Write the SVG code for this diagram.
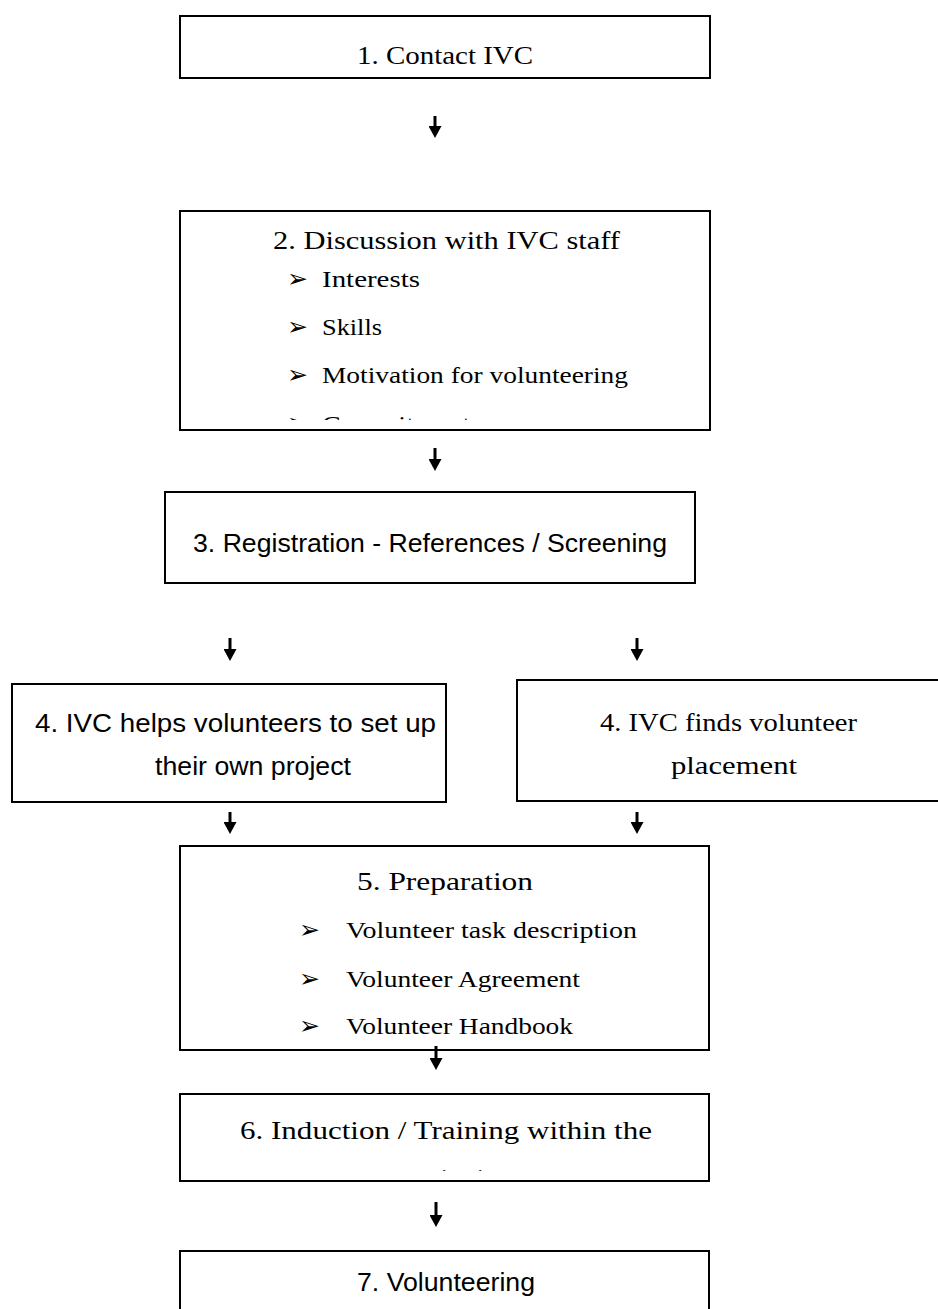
<svg xmlns="http://www.w3.org/2000/svg" width="938" height="1309" viewBox="0 0 938 1309">
<style>
.box{fill:#fff;stroke:#000;stroke-width:2}
.serif{font-family:"Liberation Serif","Times New Roman",serif;fill:#000}
.h{font-size:26px}
.b{font-size:24px}
.sans{font-family:"Liberation Sans",Arial,sans-serif;font-size:26.5px;fill:#000}
.blt{font-family:"DejaVu Sans",sans-serif;font-size:25px;fill:#000}
.conn{stroke:#000;stroke-width:3;fill:none}
</style>
<defs>
<marker id="ah" markerWidth="12" markerHeight="13" refX="0" refY="6.5" orient="auto" markerUnits="userSpaceOnUse" viewBox="0 0 12 13">
<path d="M0,0 L12,6.5 L0,13 Z" fill="#000"/>
</marker>
<clipPath id="clip2"><rect x="181" y="212" width="528" height="208"/></clipPath>
<clipPath id="clip6"><rect x="181" y="1095" width="527" height="76"/></clipPath>
</defs>

<g id="node1">
<rect class="box" x="180" y="16" width="530" height="62"/>
<text class="serif h" x="357" y="64" textLength="176" lengthAdjust="spacingAndGlyphs">1. Contact IVC</text>
</g>

<g id="node2">
<rect class="box" x="180" y="211" width="530" height="219"/>
<g clip-path="url(#clip2)">
<text class="serif h" x="273" y="249" textLength="347" lengthAdjust="spacingAndGlyphs">2. Discussion with IVC staff</text>
<text class="blt" x="287" y="287">➢</text>
<text class="serif b" x="322" y="287" textLength="98" lengthAdjust="spacingAndGlyphs">Interests</text>
<text class="blt" x="287" y="335">➢</text>
<text class="serif b" x="322" y="335" textLength="60" lengthAdjust="spacingAndGlyphs">Skills</text>
<text class="blt" x="287" y="383">➢</text>
<text class="serif b" x="322" y="383" textLength="306" lengthAdjust="spacingAndGlyphs">Motivation for volunteering</text>
<text class="blt" x="287" y="431">➢</text>
<text class="serif b" x="322" y="432" textLength="148" lengthAdjust="spacingAndGlyphs">Commitment</text>
</g>
</g>

<g id="node3">
<rect class="box" x="165" y="492" width="530" height="91"/>
<text class="sans" x="193" y="552" textLength="474" lengthAdjust="spacingAndGlyphs">3. Registration - References / Screening</text>
</g>

<g id="node4a">
<rect class="box" x="12" y="684" width="434" height="118"/>
<text class="sans" x="35" y="732" textLength="401" lengthAdjust="spacingAndGlyphs">4. IVC helps volunteers to set up</text>
<text class="sans" x="155" y="775" textLength="196" lengthAdjust="spacingAndGlyphs">their own project</text>
</g>

<g id="node4b">
<rect class="box" x="517" y="680" width="430" height="121"/>
<text class="serif h" x="600" y="731" textLength="257" lengthAdjust="spacingAndGlyphs">4. IVC finds volunteer</text>
<text class="serif h" x="671" y="774" textLength="126" lengthAdjust="spacingAndGlyphs">placement</text>
</g>

<g id="node5">
<rect class="box" x="180" y="846" width="529" height="204"/>
<text class="serif h" x="357" y="890" textLength="176" lengthAdjust="spacingAndGlyphs">5. Preparation</text>
<text class="blt" x="299" y="938">➢</text>
<text class="serif b" x="346" y="938" textLength="291" lengthAdjust="spacingAndGlyphs">Volunteer task description</text>
<text class="blt" x="299" y="987">➢</text>
<text class="serif b" x="346" y="987" textLength="234" lengthAdjust="spacingAndGlyphs">Volunteer Agreement</text>
<text class="blt" x="299" y="1034">➢</text>
<text class="serif b" x="346" y="1034" textLength="227" lengthAdjust="spacingAndGlyphs">Volunteer Handbook</text>
</g>

<g id="node6">
<rect class="box" x="180" y="1094" width="529" height="87"/>
<g clip-path="url(#clip6)">
<text class="serif h" x="240" y="1139" textLength="412" lengthAdjust="spacingAndGlyphs">6. Induction / Training within the</text>
<text class="serif h" x="446" y="1187" text-anchor="middle">organisation</text>
</g>
</g>

<g id="node7">
<rect class="box" x="180" y="1251" width="529" height="80"/>
<text class="sans" x="357" y="1291" textLength="178" lengthAdjust="spacingAndGlyphs">7. Volunteering</text>
</g>

<g id="connectors">
<line class="conn" x1="435" y1="116" x2="435" y2="126" marker-end="url(#ah)"/>
<line class="conn" x1="435" y1="448" x2="435" y2="459" marker-end="url(#ah)"/>
<line class="conn" x1="230" y1="638" x2="230" y2="649" marker-end="url(#ah)"/>
<line class="conn" x1="637" y1="638" x2="637" y2="649" marker-end="url(#ah)"/>
<line class="conn" x1="230" y1="812" x2="230" y2="822" marker-end="url(#ah)"/>
<line class="conn" x1="637" y1="812" x2="637" y2="822" marker-end="url(#ah)"/>
<line class="conn" x1="436" y1="1046" x2="436" y2="1058" marker-end="url(#ah)"/>
<line class="conn" x1="436" y1="1202" x2="436" y2="1215" marker-end="url(#ah)"/>
</g>
</svg>
